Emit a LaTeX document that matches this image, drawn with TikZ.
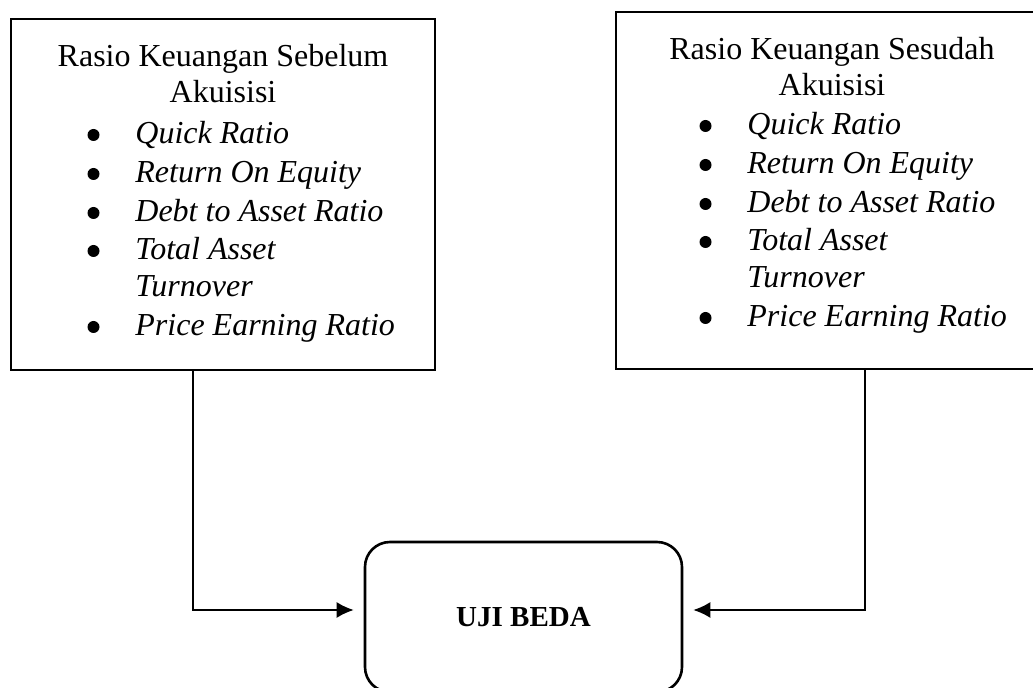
\documentclass[tikz,border=0pt]{standalone}
\usepackage{fontspec}
\setmainfont{Liberation Serif}
\usetikzlibrary{arrows.meta}

\def\daftarrasio{%
  \node[butir] (t1) at (93.5,135) {};
  \node[isi]   (q)  at (135,144) {Quick Ratio};
  \node[butir] (t2) at (93.5,174) {};
  \node[isi]   (r)  at (135,183) {Return On Equity};
  \node[butir] (t3) at (93.5,213) {};
  \node[isi]   (d)  at (135,222) {Debt to Asset Ratio};
  \node[butir] (t4) at (93.5,251) {};
  \node[isi]   (ta) at (135,260) {Total Asset};
  \node[isi]   (tb) at (135,297) {Turnover};
  \node[butir] (t5) at (93.5,327) {};
  \node[isi]   (p)  at (135,336) {Price Earning Ratio};
}

\begin{document}
\begin{tikzpicture}[x=0.5pt,y=-0.5pt,
    every node/.style={font=\fontsize{16}{19}\selectfont},
    kotak/.style={draw,line width=1.3pt,inner sep=0pt,outer sep=0pt},
    judul/.style={anchor=base},
    butir/.style={circle,fill,inner sep=0pt,minimum size=6pt},
    isi/.style={anchor=base west,inner sep=0pt,font=\fontsize{16}{19}\selectfont\itshape},
    ujibox/.style={draw,line width=1.3pt,rounded corners=12.5pt,minimum width=158.5pt,
                   minimum height=75pt,inner sep=0pt,font=\fontsize{14.5}{17}\selectfont\bfseries},
    panah/.style={-{Latex[length=8.5pt,width=8pt]},line width=0.9pt,shorten >=5pt}]
\useasboundingbox (0,0) rectangle (1033,688);
\clip (0,0) rectangle (1033,688);
%
% ============ KOTAK KIRI: sebelum akuisisi ============
\node[kotak,minimum width=212pt,minimum height=175.5pt] (kiri) at (223,194.5) {};
\node[judul] (kiri-j1) at (223,67)  {Rasio Keuangan Sebelum};
\node[judul] (kiri-j2) at (223,103) {Akuisisi};
\begin{scope}[name prefix=kiri-]
  \daftarrasio
\end{scope}
%
% ============ KOTAK KANAN: sesudah akuisisi ============
\node[kotak,minimum width=216.5pt,minimum height=178.5pt] (kanan) at (832.5,190.5) {};
\node[judul] (kanan-j1) at (832,60) {Rasio Keuangan Sesudah};
\node[judul] (kanan-j2) at (832,96) {Akuisisi};
\begin{scope}[shift={(612,-9)},name prefix=kanan-]
  \daftarrasio
\end{scope}
%
% ============ UJI BEDA ============
\node[ujibox] (uji) at (523.5,617) {UJI BEDA};
%
% Panah
\coordinate (keluarkiri)  at (193,370);
\coordinate (keluarkanan) at (865,369);
\draw[panah] (keluarkiri)  |- ([yshift=3.5pt]uji.west);
\draw[panah] (keluarkanan) |- ([yshift=3.5pt]uji.east);
%
\end{tikzpicture}
\end{document}
